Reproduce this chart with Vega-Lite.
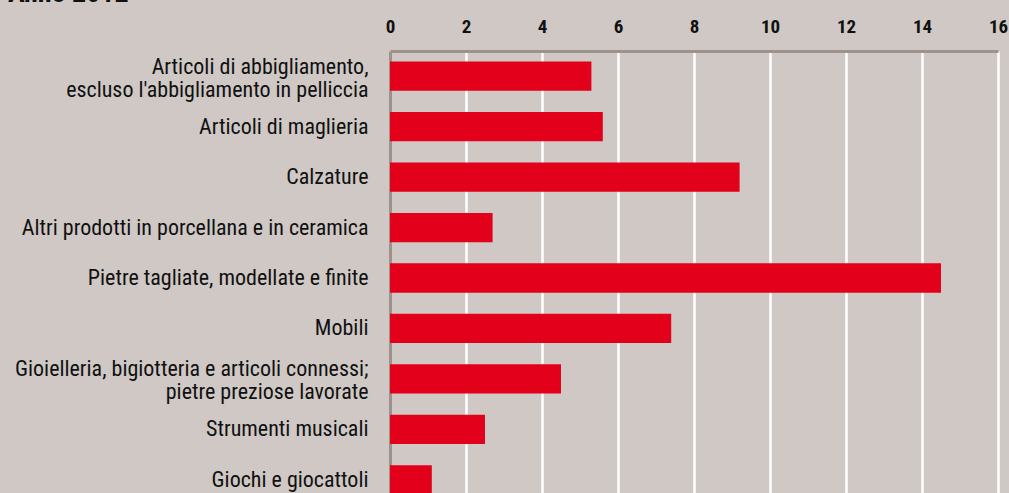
{
  "$schema": "https://vega.github.io/schema/vega-lite/v6.json",
  "autosize": "none",
  "width": 608,
  "height": 454,
  "padding": {"left": 390, "top": 51, "right": 11, "bottom": 0},
  "background": "#cfc8c5",
  "title": {
    "text": "Anno 2012",
    "anchor": "start",
    "frame": "group",
    "orient": "top",
    "dx": -382,
    "dy": 14,
    "font": "Roboto Condensed, Roboto",
    "fontSize": 28,
    "fontWeight": "bold",
    "color": "#111111",
    "baseline": "alphabetic",
    "offset": 1
  },
  "config": {
    "view": {"stroke": null},
    "font": "Roboto Condensed, Roboto"
  },
  "data": {
    "values": [
      {"cat": "Articoli di abbigliamento,|escluso l'abbigliamento in pelliccia", "v": 5.3},
      {"cat": "Articoli di maglieria", "v": 5.6},
      {"cat": "Calzature", "v": 9.2},
      {"cat": "Altri prodotti in porcellana e in ceramica", "v": 2.7},
      {"cat": "Pietre tagliate, modellate e finite", "v": 14.5},
      {"cat": "Mobili", "v": 7.4},
      {"cat": "Gioielleria, bigiotteria e articoli connessi;|pietre preziose lavorate", "v": 4.5},
      {"cat": "Strumenti musicali", "v": 2.5},
      {"cat": "Giochi e giocattoli", "v": 1.1}
    ]
  },
  "mark": {"type": "bar", "color": "#e2001a"},
  "encoding": {
    "y": {
      "field": "cat",
      "type": "nominal",
      "sort": null,
      "scale": {"paddingInner": 0.42, "paddingOuter": 0.21},
      "axis": {
        "title": null,
        "labelExpr": "split(datum.label, '|')",
        "labelFontSize": 22,
        "labelColor": "#111111",
        "labelLineHeight": 23,
        "labelPadding": 22,
        "labelOffset": {"condition": {"test": "indexof(datum.label, '|') >= 0", "value": -9.5}, "value": 0},
        "ticks": false,
        "domainColor": "#9e928c",
        "domainWidth": 3,
        "labelLimit": 500
      }
    },
    "x": {
      "field": "v",
      "type": "quantitative",
      "scale": {"domain": [0, 16], "nice": false},
      "axis": {
        "orient": "top",
        "title": null,
        "values": [0, 2, 4, 6, 8, 10, 12, 14, 16],
        "labelFontSize": 19,
        "labelFontWeight": "bold",
        "labelColor": "#111111",
        "labelBaseline": "alphabetic",
        "labelFlush": false,
        "labelPadding": 19,
        "ticks": false,
        "domainColor": "#9e928c",
        "domainWidth": 3,
        "grid": true,
        "gridColor": "#ffffff",
        "gridWidth": 2.5,
        "gridOpacity": 1
      }
    }
  }
}
